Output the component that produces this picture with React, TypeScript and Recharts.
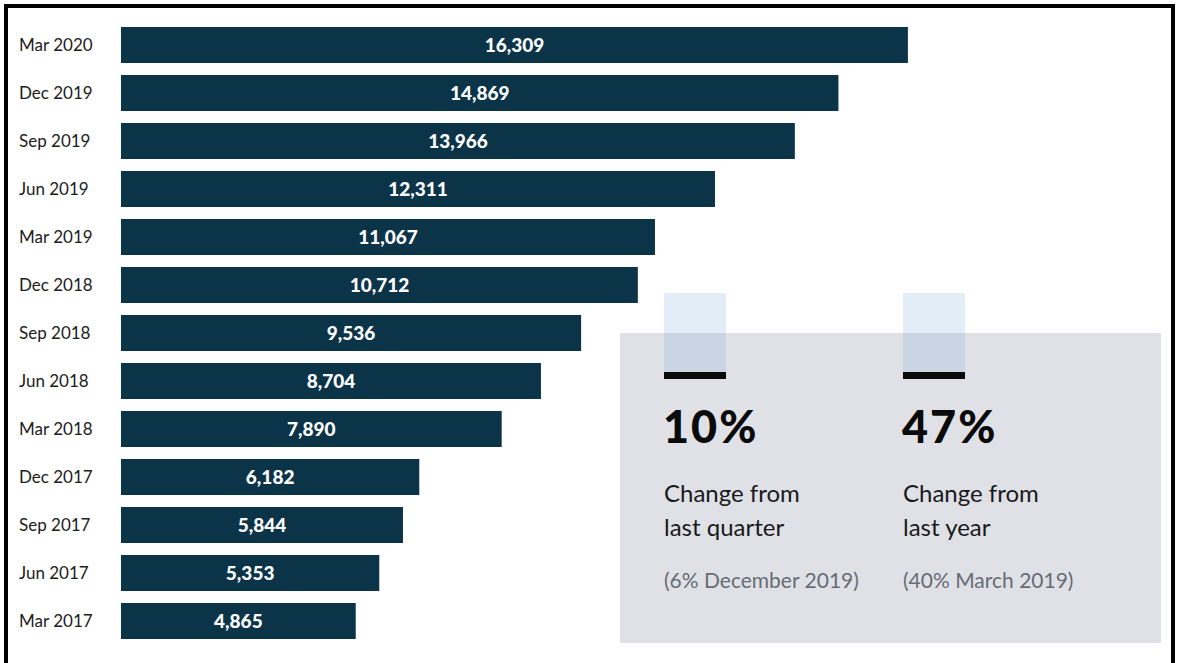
import { BarChart, Bar, XAxis, YAxis, LabelList } from "recharts";

const quarters = [
  "Mar 2020",
  "Dec 2019",
  "Sep 2019",
  "Jun 2019",
  "Mar 2019",
  "Dec 2018",
  "Sep 2018",
  "Jun 2018",
  "Mar 2018",
  "Dec 2017",
  "Sep 2017",
  "Jun 2017",
  "Mar 2017",
];

const counts = [16309, 14869, 13966, 12311, 11067, 10712, 9536, 8704, 7890, 6182, 5844, 5353, 4865];

const statValues = ["10%", "47%"];
const statLine1 = ["Change from", "Change from"];
const statLine2 = ["last quarter", "last year"];
const statNotes = ["(6% December 2019)", "(40% March 2019)"];

const data = quarters.map((q, i) => ({ quarter: q, count: counts[i] }));

const FONT = "Lato, 'Open Sans', sans-serif";
const BAR = "#0c3449";

function QuarterTick({ y, payload }: any) {
  return (
    <text x={19} y={y} dy={6} textAnchor="start" fontSize={17} fill="#1c1c1c" fontFamily={FONT}>
      {payload.value}
    </text>
  );
}

function StatsPanel() {
  const cols = [664, 903];
  return (
    <svg
      width={1179}
      height={663}
      style={{ position: "absolute", left: 0, top: 0, pointerEvents: "none" }}
    >
      <rect x={620} y={333} width={541} height={310} fill="#dfe1e6" />
      {cols.map((x, i) => (
        <g key={i} fontFamily={FONT}>
          <rect x={x} y={293} width={62} height={40} fill="#e3edf8" />
          <rect x={x} y={333} width={62} height={39} fill="#c9d5e2" />
          <rect x={x} y={372} width={62} height={7} fill="#0a0a0a" />
          <text x={x - 1} y={443} fontSize={45} fontWeight={900} letterSpacing={2} fill="#0a0a0a">
            {statValues[i]}
          </text>
          <text x={x} y={502} fontSize={24} fill="#1a1a1a">
            {statLine1[i]}
          </text>
          <text x={x} y={536} fontSize={24} fill="#1a1a1a">
            {statLine2[i]}
          </text>
          <text x={x} y={588} fontSize={21} fill="#676c75">
            {statNotes[i]}
          </text>
        </g>
      ))}
    </svg>
  );
}

export default function App() {
  return (
    <div
      style={{
        position: "fixed",
        left: 0,
        top: 0,
        width: 1179,
        height: 663,
        background: "#fff",
        overflow: "hidden",
        fontFamily: FONT,
      }}
    >
      <div
        style={{
          position: "absolute",
          left: 4,
          top: 4,
          width: 1163,
          height: 700,
          border: "4px solid #000",
        }}
      />
      <BarChart
        width={1179}
        height={663}
        data={data}
        layout="vertical"
        margin={{ top: 21, right: 93, bottom: 18, left: 0 }}
      >
        <XAxis type="number" domain={[0, 20000]} hide />
        <YAxis
          type="category"
          dataKey="quarter"
          width={121}
          axisLine={false}
          tickLine={false}
          tick={<QuarterTick />}
          interval={0}
        />
        <Bar dataKey="count" fill={BAR} barSize={36} isAnimationActive={false}>
          <LabelList
            dataKey="count"
            position="center"
            fill="#ffffff"
            fontSize={19}
            fontWeight={900}
            fontFamily={FONT}
            formatter={(v: any) => Number(v).toLocaleString("en-US")}
          />
        </Bar>
      </BarChart>
      <StatsPanel />
    </div>
  );
}
